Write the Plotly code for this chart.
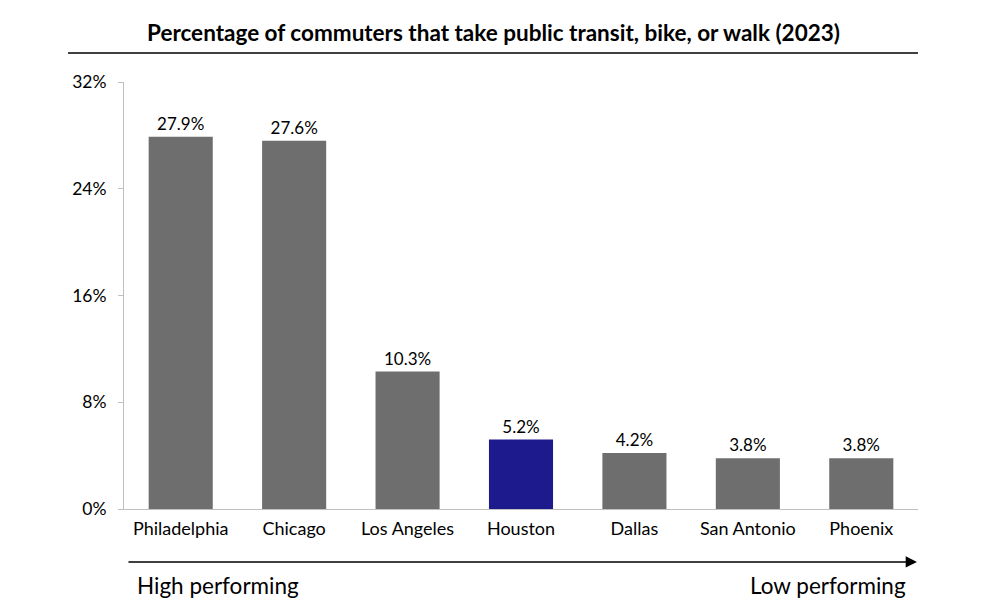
import plotly.graph_objects as go

cities = ["Philadelphia", "Chicago", "Los Angeles", "Houston", "Dallas", "San Antonio", "Phoenix"]
values = [27.9, 27.6, 10.3, 5.2, 4.2, 3.8, 3.8]
labels = ["27.9%", "27.6%", "10.3%", "5.2%", "4.2%", "3.8%", "3.8%"]
ytick_vals = [0, 8, 16, 24, 32]
ytick_text = ["0%", "8%", "16%", "24%", "32%"]

colors = ["#1c1a8c" if c == "Houston" else "#6e6e6e" for c in cities]

FONT = "Lato, Carlito, Calibri, sans-serif"

fig = go.Figure(go.Bar(
    x=cities, y=values, text=labels, textposition="outside",
    marker=dict(color=colors, line=dict(width=0)),
    textfont=dict(size=17, color="#000000", family=FONT),
    cliponaxis=False,
))

fig.update_layout(
    width=1000, height=615,
    margin=dict(l=116, r=90, t=74, b=114),
    paper_bgcolor="white", plot_bgcolor="white",
    bargap=0.435,
    showlegend=False,
    font=dict(family=FONT, size=17, color="#000000"),
    xaxis=dict(showline=True, linecolor="#bfbfbf", linewidth=1, ticks="",
               tickfont=dict(size=18), showgrid=False, fixedrange=True,
               ticklabelstandoff=3),
    yaxis=dict(range=[0, 32], tickvals=ytick_vals, ticktext=ytick_text,
               showline=True, linecolor="#bfbfbf", linewidth=1,
               ticks="outside", ticklen=5, tickcolor="#bfbfbf",
               tickfont=dict(size=17.5), showgrid=False, zeroline=False, fixedrange=True,
               ticklabelstandoff=8),
    shapes=[
        dict(type="line", xref="paper", yref="paper", x0=-0.0705, x1=1.0, y0=1.068, y1=1.068,
             line=dict(color="#000000", width=1.5)),
    ],
    annotations=[
        dict(text="<b>Percentage of commuters that take public transit, bike, or walk (2023)</b>",
             xref="paper", yref="paper", x=0.465, y=1.115, showarrow=False,
             xanchor="center", yanchor="middle", font=dict(size=22.5, family=FONT)),
        dict(xref="paper", yref="paper", x=0.9987, y=-0.124, ax=-790, ay=0,
             showarrow=True, arrowhead=2, arrowsize=1.5, arrowwidth=1.5, arrowcolor="#000000", text=""),
        dict(text="High performing", xref="paper", yref="paper", x=0.014, y=-0.178,
             showarrow=False, xanchor="left", yanchor="middle", font=dict(size=22.5, family=FONT)),
        dict(text="Low performing", xref="paper", yref="paper", x=0.988, y=-0.178,
             showarrow=False, xanchor="right", yanchor="middle", font=dict(size=22.5, family=FONT)),
    ],
)

fig.write_html("out.html")
